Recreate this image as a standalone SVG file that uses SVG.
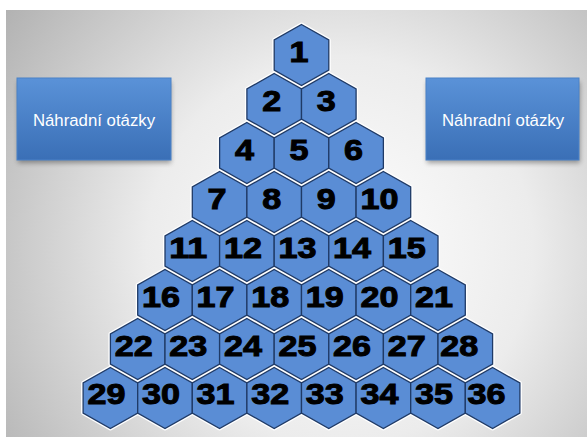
<svg xmlns="http://www.w3.org/2000/svg" xmlns:xlink="http://www.w3.org/1999/xlink" width="587" height="437" viewBox="0 0 587 437">
<defs>
<radialGradient id="bg" gradientUnits="userSpaceOnUse" cx="340" cy="250" r="430">
<stop offset="0" stop-color="#ffffff"/>
<stop offset="0.45" stop-color="#ececec"/>
<stop offset="1" stop-color="#adadad"/>
</radialGradient>
<linearGradient id="boxg" x1="0" y1="0" x2="0" y2="1">
<stop offset="0" stop-color="#5a92d8"/>
<stop offset="1" stop-color="#3a6fb6"/>
</linearGradient>
<filter id="shadow" x="-20%" y="-20%" width="140%" height="150%">
<feGaussianBlur stdDeviation="2.5"/>
</filter>
<polygon id="hex" points="0,-30.5 27.3,-15 27.3,15 0,30.5 -27.3,15 -27.3,-15"/>
<style>
.halo use{fill:#ffffff;stroke:#ffffff;stroke-width:4;stroke-linejoin:round}
.hx{fill:#5a8dd5;stroke:#1f3a66;stroke-width:1.3;stroke-linejoin:miter}
.n{font-family:"Liberation Sans",Arial,sans-serif;font-weight:bold;font-size:29px;fill:#000;text-anchor:middle;stroke:#000;stroke-width:1}
.box{fill:url(#boxg);stroke:#4a82c8;stroke-width:1}
.sh{fill:#000;opacity:0.35;filter:url(#shadow)}
.bt{font-family:"Liberation Sans",Arial,sans-serif;font-size:16.8px;fill:#ffffff;text-anchor:middle}
</style>
</defs>
<rect x="0" y="0" width="587" height="437" fill="#ffffff"/>
<rect x="6" y="10" width="581" height="427" fill="url(#bg)"/>

<g id="btnLeft">
<rect class="sh" x="18" y="82" width="153" height="81"/>
<rect class="box" x="17" y="78" width="154" height="82"/>
<text class="bt" x="94" y="126">Náhradní otázky</text>
</g>
<g id="btnRight">
<rect class="sh" x="427" y="82" width="153" height="81"/>
<rect class="box" x="426" y="78" width="153" height="82"/>
<text class="bt" x="503" y="126">Náhradní otázky</text>
</g>

<g id="connectors"></g>

<g class="halo">
<use href="#hex" x="301.5" y="55"/>
<use href="#hex" x="274.2" y="104"/><use href="#hex" x="328.8" y="104"/>
<use href="#hex" x="246.9" y="153"/><use href="#hex" x="301.5" y="153"/><use href="#hex" x="356.1" y="153"/>
<use href="#hex" x="219.6" y="202"/><use href="#hex" x="274.2" y="202"/><use href="#hex" x="328.8" y="202"/><use href="#hex" x="383.4" y="202"/>
<use href="#hex" x="192.3" y="251"/><use href="#hex" x="246.9" y="251"/><use href="#hex" x="301.5" y="251"/><use href="#hex" x="356.1" y="251"/><use href="#hex" x="410.7" y="251"/>
<use href="#hex" x="165" y="300"/><use href="#hex" x="219.6" y="300"/><use href="#hex" x="274.2" y="300"/><use href="#hex" x="328.8" y="300"/><use href="#hex" x="383.4" y="300"/><use href="#hex" x="438" y="300"/>
<use href="#hex" x="137.7" y="349"/><use href="#hex" x="192.3" y="349"/><use href="#hex" x="246.9" y="349"/><use href="#hex" x="301.5" y="349"/><use href="#hex" x="356.1" y="349"/><use href="#hex" x="410.7" y="349"/><use href="#hex" x="465.3" y="349"/>
<use href="#hex" x="110.4" y="398"/><use href="#hex" x="165" y="398"/><use href="#hex" x="219.6" y="398"/><use href="#hex" x="274.2" y="398"/><use href="#hex" x="328.8" y="398"/><use href="#hex" x="383.4" y="398"/><use href="#hex" x="438" y="398"/><use href="#hex" x="492.6" y="398"/>
</g>

<g id="n1"><use class="hx" href="#hex" x="301.5" y="55"/><text class="n" x="299" y="62" textLength="19" lengthAdjust="spacingAndGlyphs">1</text></g>
<g id="n2"><use class="hx" href="#hex" x="274.2" y="104"/><text class="n" x="271.7" y="111" textLength="19" lengthAdjust="spacingAndGlyphs">2</text></g>
<g id="n3"><use class="hx" href="#hex" x="328.8" y="104"/><text class="n" x="326.3" y="111" textLength="19" lengthAdjust="spacingAndGlyphs">3</text></g>
<g id="n4"><use class="hx" href="#hex" x="246.9" y="153"/><text class="n" x="244.4" y="160" textLength="19" lengthAdjust="spacingAndGlyphs">4</text></g>
<g id="n5"><use class="hx" href="#hex" x="301.5" y="153"/><text class="n" x="299" y="160" textLength="19" lengthAdjust="spacingAndGlyphs">5</text></g>
<g id="n6"><use class="hx" href="#hex" x="356.1" y="153"/><text class="n" x="353.6" y="160" textLength="19" lengthAdjust="spacingAndGlyphs">6</text></g>
<g id="n7"><use class="hx" href="#hex" x="219.6" y="202"/><text class="n" x="217.1" y="209" textLength="19" lengthAdjust="spacingAndGlyphs">7</text></g>
<g id="n8"><use class="hx" href="#hex" x="274.2" y="202"/><text class="n" x="271.7" y="209" textLength="19" lengthAdjust="spacingAndGlyphs">8</text></g>
<g id="n9"><use class="hx" href="#hex" x="328.8" y="202"/><text class="n" x="326.3" y="209" textLength="19" lengthAdjust="spacingAndGlyphs">9</text></g>
<g id="n10"><use class="hx" href="#hex" x="383.4" y="202"/><text class="n" x="379.4" y="209" textLength="38" lengthAdjust="spacingAndGlyphs">10</text></g>
<g id="n11"><use class="hx" href="#hex" x="192.3" y="251"/><text class="n" x="188.3" y="258" textLength="38" lengthAdjust="spacingAndGlyphs">11</text></g>
<g id="n12"><use class="hx" href="#hex" x="246.9" y="251"/><text class="n" x="242.9" y="258" textLength="38" lengthAdjust="spacingAndGlyphs">12</text></g>
<g id="n13"><use class="hx" href="#hex" x="301.5" y="251"/><text class="n" x="297.5" y="258" textLength="38" lengthAdjust="spacingAndGlyphs">13</text></g>
<g id="n14"><use class="hx" href="#hex" x="356.1" y="251"/><text class="n" x="352.1" y="258" textLength="38" lengthAdjust="spacingAndGlyphs">14</text></g>
<g id="n15"><use class="hx" href="#hex" x="410.7" y="251"/><text class="n" x="406.7" y="258" textLength="38" lengthAdjust="spacingAndGlyphs">15</text></g>
<g id="n16"><use class="hx" href="#hex" x="165" y="300"/><text class="n" x="161" y="307" textLength="38" lengthAdjust="spacingAndGlyphs">16</text></g>
<g id="n17"><use class="hx" href="#hex" x="219.6" y="300"/><text class="n" x="215.6" y="307" textLength="38" lengthAdjust="spacingAndGlyphs">17</text></g>
<g id="n18"><use class="hx" href="#hex" x="274.2" y="300"/><text class="n" x="270.2" y="307" textLength="38" lengthAdjust="spacingAndGlyphs">18</text></g>
<g id="n19"><use class="hx" href="#hex" x="328.8" y="300"/><text class="n" x="324.8" y="307" textLength="38" lengthAdjust="spacingAndGlyphs">19</text></g>
<g id="n20"><use class="hx" href="#hex" x="383.4" y="300"/><text class="n" x="379.4" y="307" textLength="38" lengthAdjust="spacingAndGlyphs">20</text></g>
<g id="n21"><use class="hx" href="#hex" x="438" y="300"/><text class="n" x="434" y="307" textLength="38" lengthAdjust="spacingAndGlyphs">21</text></g>
<g id="n22"><use class="hx" href="#hex" x="137.7" y="349"/><text class="n" x="133.7" y="356" textLength="38" lengthAdjust="spacingAndGlyphs">22</text></g>
<g id="n23"><use class="hx" href="#hex" x="192.3" y="349"/><text class="n" x="188.3" y="356" textLength="38" lengthAdjust="spacingAndGlyphs">23</text></g>
<g id="n24"><use class="hx" href="#hex" x="246.9" y="349"/><text class="n" x="242.9" y="356" textLength="38" lengthAdjust="spacingAndGlyphs">24</text></g>
<g id="n25"><use class="hx" href="#hex" x="301.5" y="349"/><text class="n" x="297.5" y="356" textLength="38" lengthAdjust="spacingAndGlyphs">25</text></g>
<g id="n26"><use class="hx" href="#hex" x="356.1" y="349"/><text class="n" x="352.1" y="356" textLength="38" lengthAdjust="spacingAndGlyphs">26</text></g>
<g id="n27"><use class="hx" href="#hex" x="410.7" y="349"/><text class="n" x="406.7" y="356" textLength="38" lengthAdjust="spacingAndGlyphs">27</text></g>
<g id="n28"><use class="hx" href="#hex" x="465.3" y="349"/><text class="n" x="459.3" y="356" textLength="38" lengthAdjust="spacingAndGlyphs">28</text></g>
<g id="n29"><use class="hx" href="#hex" x="110.4" y="398"/><text class="n" x="106.4" y="404" textLength="38" lengthAdjust="spacingAndGlyphs">29</text></g>
<g id="n30"><use class="hx" href="#hex" x="165" y="398"/><text class="n" x="161" y="404" textLength="38" lengthAdjust="spacingAndGlyphs">30</text></g>
<g id="n31"><use class="hx" href="#hex" x="219.6" y="398"/><text class="n" x="215.6" y="404" textLength="38" lengthAdjust="spacingAndGlyphs">31</text></g>
<g id="n32"><use class="hx" href="#hex" x="274.2" y="398"/><text class="n" x="270.2" y="404" textLength="38" lengthAdjust="spacingAndGlyphs">32</text></g>
<g id="n33"><use class="hx" href="#hex" x="328.8" y="398"/><text class="n" x="324.8" y="404" textLength="38" lengthAdjust="spacingAndGlyphs">33</text></g>
<g id="n34"><use class="hx" href="#hex" x="383.4" y="398"/><text class="n" x="379.4" y="404" textLength="38" lengthAdjust="spacingAndGlyphs">34</text></g>
<g id="n35"><use class="hx" href="#hex" x="438" y="398"/><text class="n" x="434" y="404" textLength="38" lengthAdjust="spacingAndGlyphs">35</text></g>
<g id="n36"><use class="hx" href="#hex" x="492.6" y="398"/><text class="n" x="486.6" y="404" textLength="38" lengthAdjust="spacingAndGlyphs">36</text></g>
</svg>
